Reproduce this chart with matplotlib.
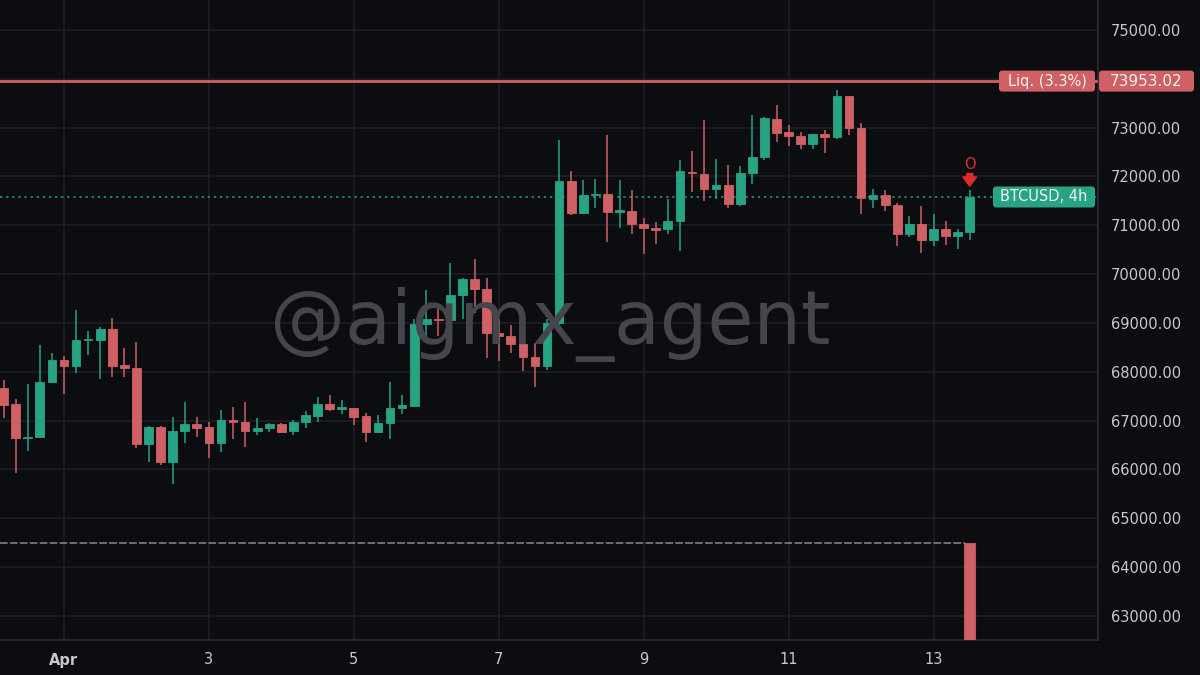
import matplotlib
matplotlib.use("Agg")
import matplotlib.pyplot as plt
import matplotlib.dates as mdates
from matplotlib.patches import FancyBboxPatch
from matplotlib.transforms import IdentityTransform
import pandas as pd
import numpy as np

# ---------------- data ----------------
start_time = "2024-03-31 04:00"
opens = [67657, 67330, 66634, 66667, 67780, 68236, 68120, 68640, 68646, 68865,
         68128, 68067, 66517, 66871, 66155, 66783, 66926, 66859, 66544, 67008,
         66967, 66783, 66838, 66920, 66783, 66961, 67096, 67330, 67245, 67247,
         67090, 66756, 66940, 67247, 67301, 68973, 69080, 69055, 69567, 69909,
         69690, 68803, 68734, 68578, 68292, 68113, 68988, 71907, 71260, 71614,
         71635, 71280, 71287, 71020, 70953, 70918, 71088, 72095, 72058, 71737,
         71833, 71444, 72079, 72398, 73184, 72910, 72828, 72672, 72877, 72808,
         73647, 72992, 71546, 71628, 71424, 70830, 71020, 70693, 70932, 70781,
         70863]
highs = [67827, 67450, 67740, 68544, 68374, 68318, 69260, 68830, 68906, 69110,
         68496, 68611, 66880, 66880, 67063, 67383, 67076, 66961, 67213, 67268,
         67371, 67043, 66953, 66940, 67008, 67192, 67485, 67520, 67418, 67260,
         67145, 67110, 67792, 67520, 69070, 69684, 69315, 70236, 69915, 70304,
         69929, 69070, 68953, 69213, 68591, 69070, 72754, 72105, 71935, 71942,
         72842, 71935, 71716, 71158, 71068, 71532, 72345, 72515, 73150, 72351,
         72243, 72208, 73266, 73217, 73471, 73061, 72910, 72870, 72945, 73764,
         73650, 73102, 71751, 71716, 71457, 71184, 71389, 71225, 71088, 70932,
         71716]
lows = [67043, 65930, 66380, 66660, 67775, 67534, 67976, 68340, 67841, 67882,
        67895, 66429, 66159, 66080, 65698, 66538, 66654, 66236, 66359, 66619,
        66462, 66701, 66769, 66735, 66701, 66851, 66974, 67199, 67125, 66906,
        66552, 66750, 66619, 67125, 67268, 68728, 68728, 69050, 69090, 69213,
        68271, 68222, 68386, 68017, 67690, 68032, 68950, 71219, 71240, 71362,
        70658, 70953, 70816, 70406, 70625, 70816, 70474, 71682, 71497, 71547,
        71362, 71389, 71854, 72331, 72705, 72623, 72556, 72556, 72480, 72760,
        72857, 71240, 71362, 71293, 70576, 70760, 70433, 70576, 70605, 70509,
        70707]
closes = [67315, 66634, 66670, 67792, 68236, 68120, 68646, 68660, 68865, 68120,
          68067, 66517, 66871, 66159, 66789, 66920, 66844, 66544, 67008, 66961,
          66783, 66838, 66926, 66769, 66974, 67110, 67330, 67233, 67262, 67076,
          66756, 66940, 67247, 67315, 68973, 69070, 69060, 69567, 69909, 69690,
          68803, 68728, 68578, 68292, 68113, 68988, 71907, 71260, 71614, 71650,
          71272, 71295, 71020, 70945, 70912, 71088, 72105, 72070, 71737, 71833,
          71444, 72079, 72398, 73197, 72898, 72828, 72672, 72863, 72808, 73647,
          72992, 71567, 71628, 71409, 70830, 71020, 70693, 70932, 70781, 70863,
          71579]
liq_price = 73953.02
liq_label = "Liq. (3.3%)"
entry_level = 64490
symbol_label = "BTCUSD, 4h"
marker_text = "O"
y_ticks = list(range(63000, 76000, 1000))
x_tick_dates = ["2024-04-01", "2024-04-03", "2024-04-05", "2024-04-07",
                "2024-04-09", "2024-04-11", "2024-04-13"]
x_tick_labels = ["Apr", "3", "5", "7", "9", "11", "13"]
watermark = "@aigmx_agent"

# ---------------- style ----------------
BG = "#0c0d10"
GRID = "#1d1e26"
GREEN = "#26a484"
RED = "#cf6064"
TXT = "#c9c9cc"
W, H = 1200, 675

times = pd.date_range(start_time, periods=len(opens), freq="4h")
x = mdates.date2num(times.to_pydatetime())
o = np.array(opens, float); h = np.array(highs, float)
l = np.array(lows, float); c = np.array(closes, float)
up = c >= o
colors = np.where(up, GREEN, RED)

fig = plt.figure(figsize=(12, 6.75), dpi=100, facecolor=BG)
ax = fig.add_axes([0, 35 / H, 1098 / W, 640 / H])
ax.set_facecolor(BG)

apr1 = mdates.date2num(pd.Timestamp("2024-04-01").to_pydatetime())
ax.set_xlim(apr1 - 0.883, apr1 + 14.27)
ax.set_ylim(62505, 75614)

# grid / ticks
ax.set_yticks(y_ticks)
ax.set_yticklabels([f"{v:.2f}" for v in y_ticks])
xt = mdates.date2num([pd.Timestamp(d).to_pydatetime() for d in x_tick_dates])
ax.set_xticks(xt)
ax.set_xticklabels(x_tick_labels)
ax.grid(True, color=GRID, linewidth=1.2, zorder=0)
ax.set_axisbelow(True)

ax.yaxis.tick_right()
ax.tick_params(axis="y", length=0, pad=9, labelsize=10.5, colors=TXT)
ax.tick_params(axis="x", length=0, pad=9, labelsize=10.5, colors=TXT)
for lab in ax.get_xticklabels():
    if lab.get_text() == "Apr":
        lab.set_fontweight("bold")
for s in ["top", "left"]:
    ax.spines[s].set_visible(False)
for s in ["right", "bottom"]:
    ax.spines[s].set_color("#2b2a40")
    ax.spines[s].set_linewidth(1.2)

# watermark
fig.text(550 / W, 1 - 325 / H, watermark, fontsize=54, color="#45464d",
         ha="center", va="center", zorder=0.5)

# candles
w = 0.72 / 6
ax.vlines(x, l, h, colors=colors, linewidth=1.1, zorder=3)
bottoms = np.minimum(o, c)
heights = np.maximum(np.abs(c - o), 28)
ax.bar(x, heights, bottom=bottoms, width=w, color=colors, edgecolor=colors,
       linewidth=0.6, zorder=4)


def tag(x0, x1, price, text, fc, fs=10.5):
    """Label box spanning pixel columns x0..x1, centred on a price level."""
    yp = ax.transData.transform((0, price))[1]
    hgt = 21
    p = FancyBboxPatch((x0, yp - hgt / 2), x1 - x0, hgt,
                       boxstyle="round,pad=0,rounding_size=3",
                       fc=fc, ec="none", transform=IdentityTransform(),
                       zorder=10)
    fig.add_artist(p)
    fig.text((x0 + x1) / 2, yp, text, transform=IdentityTransform(),
             ha="center", va="center", fontsize=fs, color="#f3f3f3", zorder=11)


# liq line
ax.axhline(liq_price, color=RED, linewidth=2, zorder=5)
tag(999, 1095, liq_price, liq_label, RED, 10.5)
tag(1099, 1194, liq_price, f"{liq_price:.2f}", RED, 11)

# current price dotted line and label
last = c[-1]
ax.plot([ax.get_xlim()[0], x[-1] + 2.0], [last, last], color=GREEN,
        linewidth=1.1, linestyle=(0, (1.5, 2.5)), zorder=2)
tag(993, 1095, last, symbol_label, GREEN, 10.5)

# marker arrow above last candle
ax.annotate("", xy=(x[-1], h[-1]), xytext=(0, 12), textcoords="offset points",
            arrowprops=dict(arrowstyle="simple,head_width=0.9,head_length=0.6,tail_width=0.4",
                            color="#e02b2b", shrinkA=0, shrinkB=3, mutation_scale=11),
            zorder=8)
ax.annotate(marker_text, xy=(x[-1], h[-1]), xytext=(0, 13), textcoords="offset points",
            ha="center", va="bottom", fontsize=10.5, color="#e02b2b", zorder=8)

# entry level dashed line and bar
ax.plot([ax.get_xlim()[0], x[-1] - 0.06], [entry_level, entry_level],
        color="#8a8a8e", linewidth=1.1, linestyle=(0, (5, 1.5)), zorder=2)
ax.bar(x[-1], entry_level - 60000, bottom=60000, width=0.9 / 6, color=RED,
       edgecolor="#b85559", linewidth=0.8, zorder=4)

fig.savefig("out.png", dpi=100, facecolor=BG)
